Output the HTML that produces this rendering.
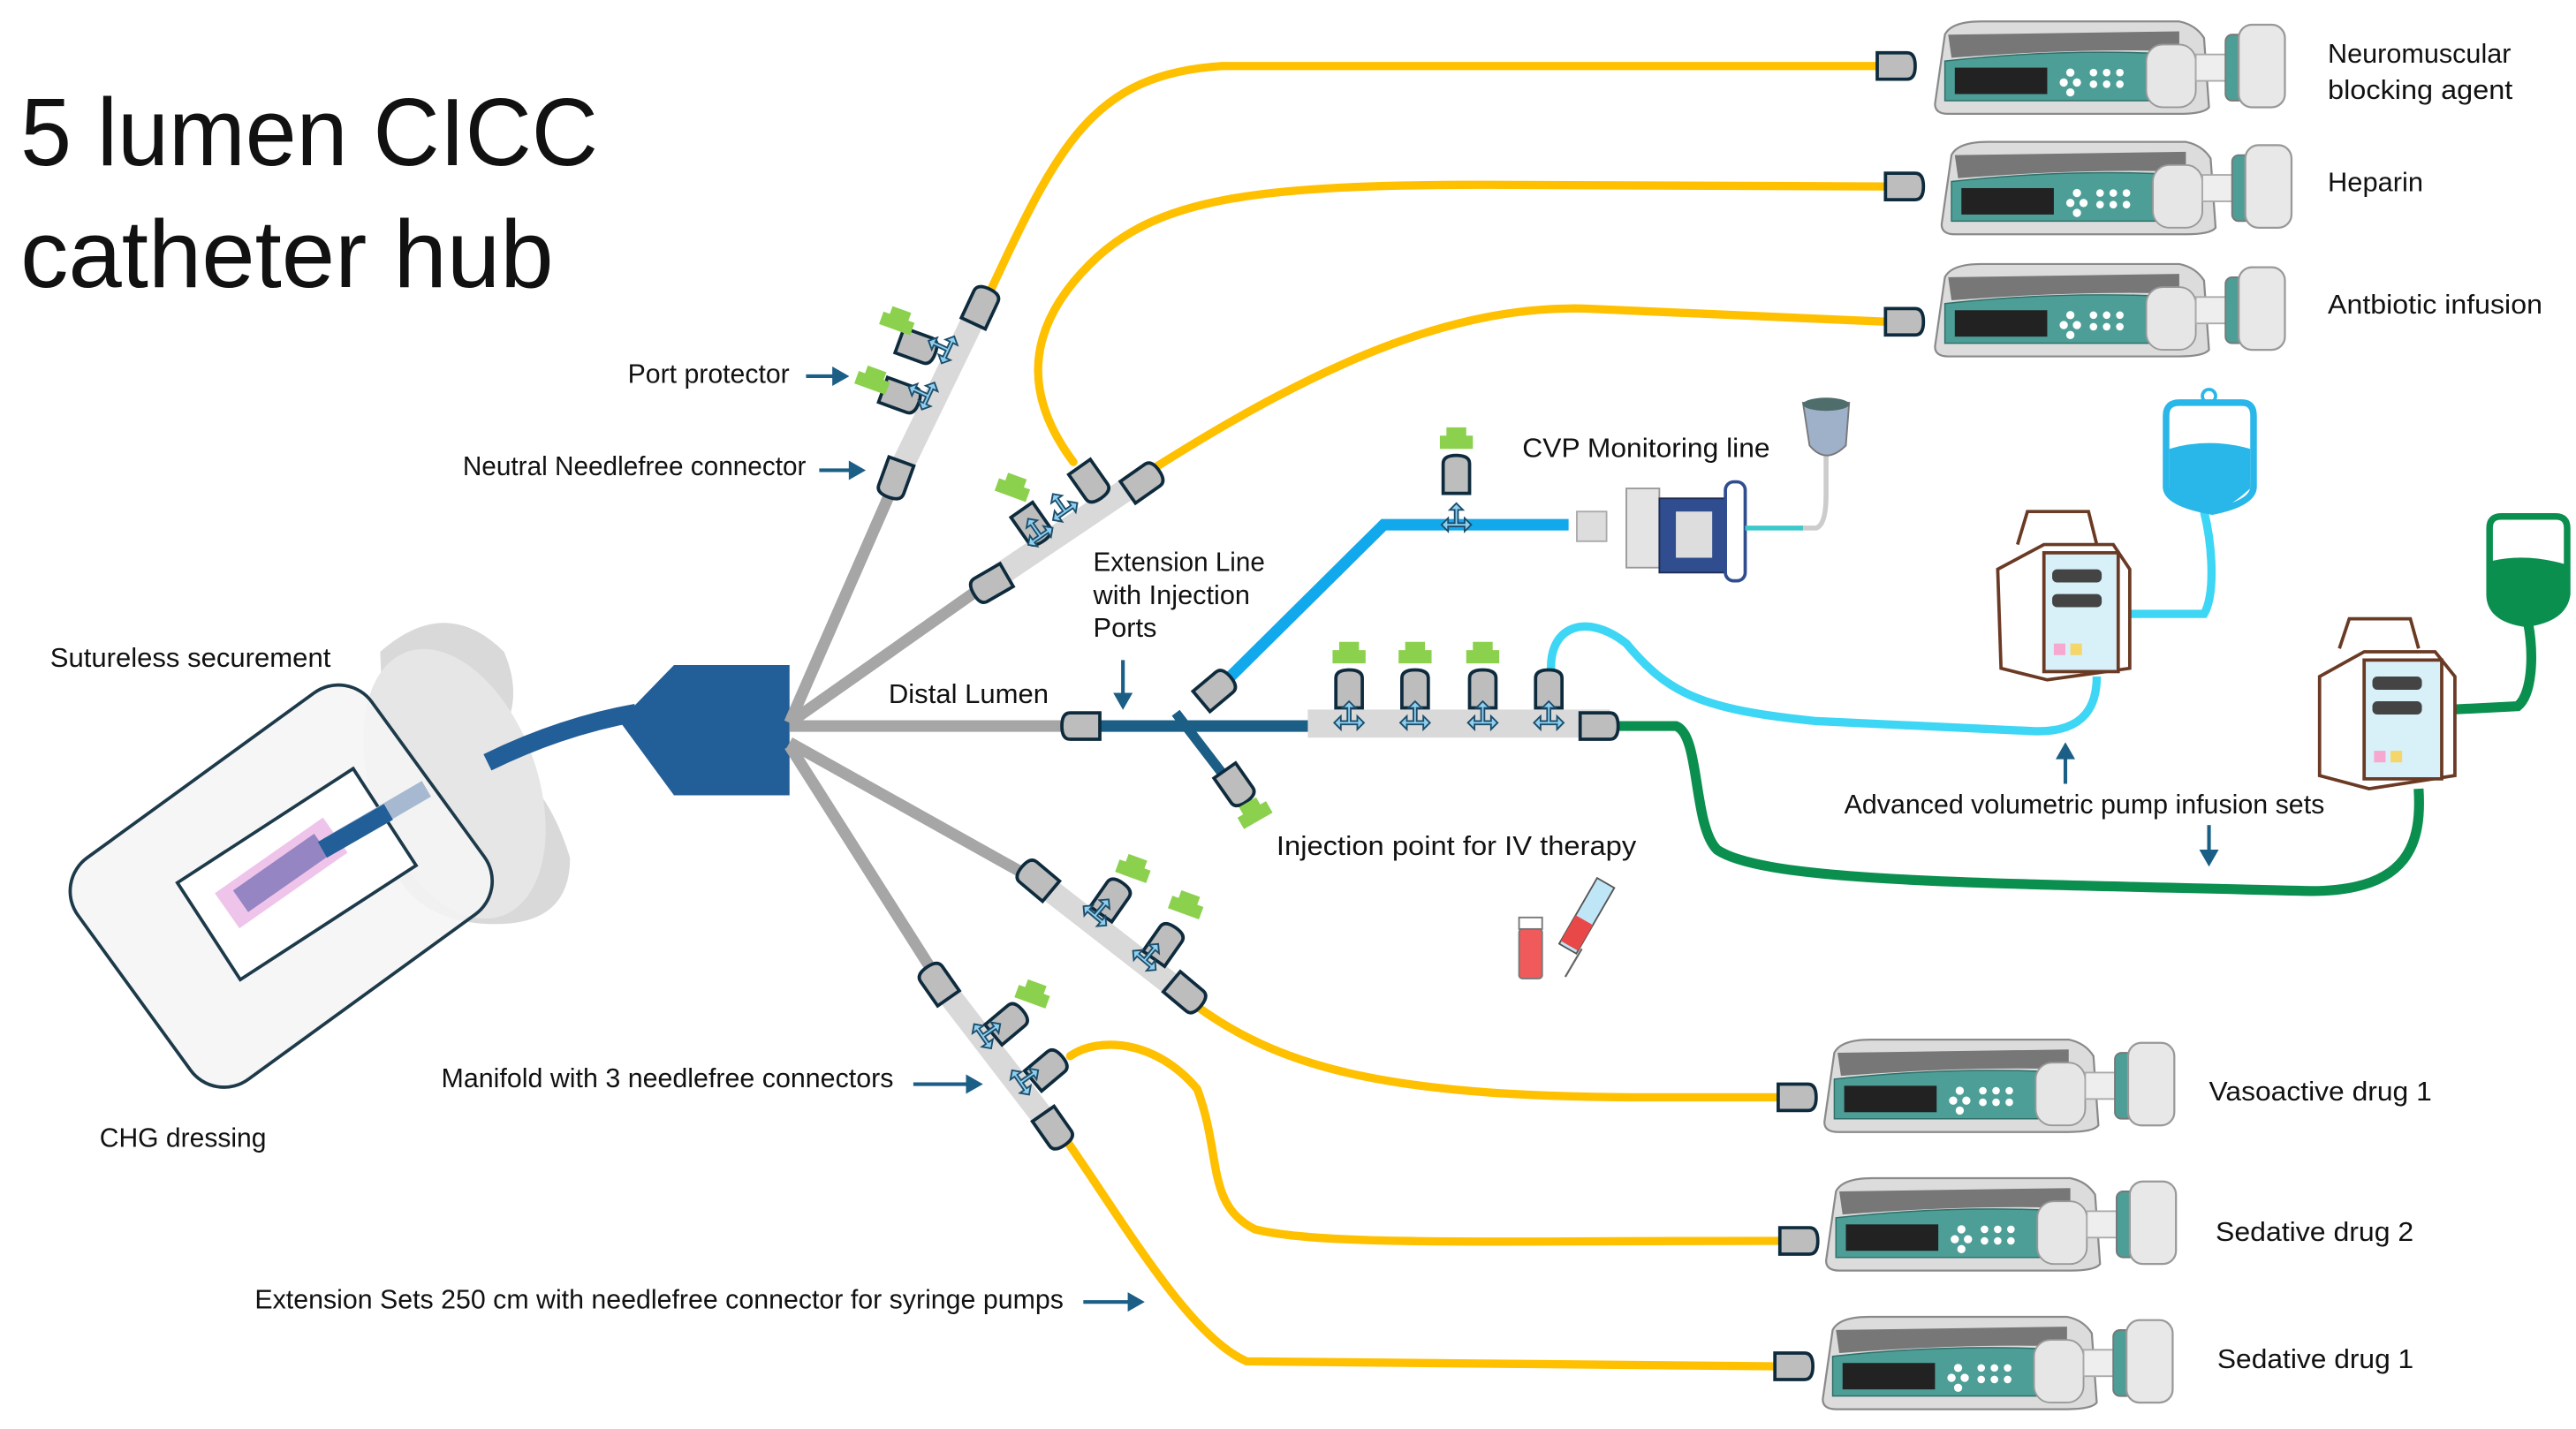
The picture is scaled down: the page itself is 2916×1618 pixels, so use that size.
<!DOCTYPE html>
<html><head><meta charset="utf-8"><style>
html,body{margin:0;padding:0;background:#fff;}
svg{display:block;}
text{font-family:"Liberation Sans Narrow","Liberation Sans",sans-serif;fill:#111;}
.l{font-size:16.5px;}
</style></head><body>
<svg width="2916" height="1618" viewBox="0 0 1560 866" xmlns="http://www.w3.org/2000/svg">
<defs>
<g id="pump">
 <path d="M8,8 Q12,0 30,0 L150,0 Q160,2 165,10 L168,52 Q165,56 150,56 L10,56 Q2,56 2,50 Z" fill="#dcdcdc" stroke="#8a8a8a" stroke-width="1.2"/>
 <path d="M10,8 L150,6 L150,18 Q90,16 12,22 Z" fill="#777"/>
 <path d="M8,24 Q80,16 150,20 L150,48 L8,48 Z" fill="#4d9e97" stroke="#2f6f6a" stroke-width="0.8"/>
 <rect x="14" y="28" width="56" height="16" fill="#222"/>
 <g fill="#fff"><circle cx="84" cy="31" r="2.5"/><circle cx="80" cy="37" r="2.5"/><circle cx="88" cy="37" r="2.5"/><circle cx="84" cy="43" r="2.5"/>
 <circle cx="98" cy="31" r="2.3"/><circle cx="106" cy="31" r="2.3"/><circle cx="114" cy="31" r="2.3"/><circle cx="98" cy="38" r="2.3"/><circle cx="106" cy="38" r="2.3"/><circle cx="114" cy="38" r="2.3"/></g>
 <rect x="130" y="14" width="30" height="38" rx="10" fill="#e6e6e6" stroke="#999"/>
 <rect x="160" y="20" width="25" height="16" fill="#eee" stroke="#aaa"/>
 <rect x="178" y="8" width="12" height="40" rx="4" fill="#4d9e97" stroke="#777"/>
 <rect x="186" y="2" width="28" height="50" rx="8" fill="#e8e8e8" stroke="#999" stroke-width="1.2"/>
</g>
<g id="conn"><path d="M-11,-8 L7,-8 Q12,-8 12,0 Q12,8 7,8 L-11,8 Z" fill="#bdbdbd" stroke="#0e2b3d" stroke-width="2"/></g>
<g id="cap"><path d="M-6,-9 L6,-9 L6,-4 L10,-4 L10,4 L-10,4 L-10,-4 L-6,-4 Z" fill="#8bd14d"/></g>
<g id="tee"><path d="M-9,0 L-5,-4 L-5,-1 L-1,-1 L-1,-9 L-4,-9 L0,-13 L4,-9 L1,-9 L1,-1 L5,-1 L5,-4 L9,0 L5,4 L5,1 L-5,1 L-5,4 Z" fill="#8fd0f0" stroke="#1d4d6b" stroke-width="1"/></g>
</defs>

<text x="12" y="100" textLength="350" lengthAdjust="spacingAndGlyphs" style="font-size:58px;font-family:'Liberation Sans',sans-serif">5 lumen CICC</text>
<text x="12" y="174" textLength="323" lengthAdjust="spacingAndGlyphs" style="font-size:58px;font-family:'Liberation Sans',sans-serif">catheter hub</text>

<!-- securement -->
<path d="M230,395 Q270,360 305,395 Q320,430 295,455 Q330,470 345,520 Q345,560 300,560 Q250,560 235,520 Z" fill="#d9d9d9"/>
<ellipse cx="275" cy="475" rx="50" ry="85" fill="#e6e6e6" transform="rotate(-20 275 475)"/>
<!-- dressing -->
<rect x="60" y="454" width="220" height="166" rx="25" fill="#f4f4f4" fill-opacity="0.85" stroke="#1d3a4a" stroke-width="2" transform="rotate(-36 170 537)"/>
<rect x="116" y="495" width="127" height="70" fill="#fff" stroke="#1d3a4a" stroke-width="2" transform="rotate(-33 179 530)"/>
<rect x="130" y="516" width="80" height="26" fill="#efc4ea" transform="rotate(-35 170 529)"/>
<rect x="140" y="521" width="60" height="16" fill="#9585c2" transform="rotate(-35 170 529)"/>
<path d="M198,513 L258,478" stroke="#a6b9d1" stroke-width="11"/>
<path d="M195,515 L235,492" stroke="#225e97" stroke-width="11"/>
<path d="M295,462 Q340,440 385,432" stroke="#225e97" stroke-width="11" fill="none"/>
<!-- hub -->
<path d="M375,437 L408,403 L478,403 L478,482 L408,482 Z" fill="#225e97"/>

<!-- gray lumens -->
<g stroke="#a6a6a6" stroke-width="7" fill="none">
<path d="M478,438 L545,285"/><path d="M478,438 L600,352"/><path d="M478,440 L650,440"/>
<path d="M478,450 L630,535"/><path d="M478,452 L570,597"/>
</g>
<g stroke="#d9d9d9" stroke-width="14" fill="none">
<path d="M545,285 L595,182"/><path d="M600,352 L695,288"/><path d="M630,535 L720,605"/><path d="M570,597 L640,688"/>
</g>

<!-- yellow lines -->
<g stroke="#ffc000" stroke-width="5" fill="none" stroke-linecap="round">
<path d="M597,182 C640,90 660,45 740,40 L1140,40"/>
<path d="M650,280 C620,240 620,200 660,160 C700,120 760,112 900,112 L1143,113"/>
<path d="M700,283 C800,220 880,185 960,187 L1143,195"/>
<path d="M725,610 C780,650 850,665 1000,665 L1078,665"/>
<path d="M648,640 C665,628 700,630 725,660 C740,700 730,730 760,745 C800,755 900,752 1078,752"/>
<path d="M645,690 C680,740 720,810 755,825 L1075,828"/>
</g>

<!-- distal -->
<path d="M665,440 L795,440" stroke="#1b5e86" stroke-width="7"/>
<path d="M712,432 L745,475" stroke="#1b5e86" stroke-width="6"/>
<path d="M730,425 L838,318 L950,318" stroke="#12a9ec" stroke-width="7" fill="none"/>
<rect x="792" y="430" width="183" height="17" fill="#d9d9d9"/>
<!-- cyan and green lines -->
<path d="M940,412 C935,380 960,370 985,390 C1010,420 1030,430 1100,437 L1230,443 C1265,445 1270,425 1270,410" stroke="#3dd6f5" stroke-width="5" fill="none"/>
<path d="M1288,372 L1335,372 C1342,360 1340,330 1335,310" stroke="#3dd6f5" stroke-width="5" fill="none"/>
<path d="M980,440 L1015,440 C1030,445 1025,500 1040,515 C1070,535 1200,535 1400,540 C1460,540 1467,510 1465,478" stroke="#0a8f4f" stroke-width="6" fill="none"/>
<path d="M1485,430 L1525,428 C1535,420 1535,390 1530,372" stroke="#0a8f4f" stroke-width="6" fill="none"/>

<!-- connectors -->
<use href="#conn" transform="translate(594,186) rotate(-65)"/>
<use href="#conn" transform="translate(542,290) rotate(110)"/>
<use href="#conn" transform="translate(555,210) rotate(20)"/>
<use href="#conn" transform="translate(545,240) rotate(20)"/>
<use href="#tee" transform="translate(574,212) rotate(-65)"/><use href="#tee" transform="translate(562,240) rotate(-65)"/>
<use href="#cap" transform="translate(543,196) rotate(20)"/><use href="#cap" transform="translate(528,232) rotate(20)"/>
<use href="#conn" transform="translate(600,354) rotate(150)"/>
<use href="#conn" transform="translate(692,292) rotate(-35)"/>
<use href="#conn" transform="translate(660,292) rotate(55)"/><use href="#conn" transform="translate(625,318) rotate(55)"/>
<use href="#tee" transform="translate(645,310) rotate(-35)"/><use href="#tee" transform="translate(630,325) rotate(-35)"/>
<use href="#cap" transform="translate(613,297) rotate(20)"/>
<use href="#conn" transform="translate(655,440) rotate(180)"/>
<use href="#conn" transform="translate(736,418) rotate(-40)"/>
<use href="#conn" transform="translate(748,476) rotate(55)"/>
<use href="#cap" transform="translate(760,494) rotate(-30)"/>
<use href="#conn" transform="translate(968,440)"/>
<use href="#conn" transform="translate(882,288) rotate(-90)"/>
<use href="#cap" transform="translate(882,268)"/>
<use href="#tee" transform="translate(882,318)"/>
<g>
<use href="#conn" transform="translate(817,418) rotate(-90)"/><use href="#conn" transform="translate(857,418) rotate(-90)"/>
<use href="#conn" transform="translate(898,418) rotate(-90)"/><use href="#conn" transform="translate(938,418) rotate(-90)"/>
<use href="#cap" transform="translate(817,398)"/><use href="#cap" transform="translate(857,398)"/><use href="#cap" transform="translate(898,398)"/>
<use href="#tee" transform="translate(817,438)"/><use href="#tee" transform="translate(857,438)"/><use href="#tee" transform="translate(898,438)"/><use href="#tee" transform="translate(938,438)"/>
</g>
<use href="#conn" transform="translate(628,533) rotate(-140)"/>
<use href="#conn" transform="translate(718,602) rotate(40)"/>
<use href="#conn" transform="translate(673,545) rotate(-55)"/><use href="#conn" transform="translate(705,572) rotate(-55)"/>
<use href="#tee" transform="translate(663,555) rotate(40)"/><use href="#tee" transform="translate(693,582) rotate(40)"/>
<use href="#cap" transform="translate(686,528) rotate(20)"/><use href="#cap" transform="translate(718,550) rotate(20)"/>
<use href="#conn" transform="translate(568,596) rotate(-125)"/>
<use href="#conn" transform="translate(638,684) rotate(55)"/>
<use href="#conn" transform="translate(610,620) rotate(-40)"/><use href="#conn" transform="translate(634,648) rotate(-40)"/>
<use href="#tee" transform="translate(595,628) rotate(55)"/><use href="#tee" transform="translate(618,656) rotate(55)"/>
<use href="#cap" transform="translate(625,604) rotate(20)"/>

<!-- pump connectors -->
<use href="#conn" transform="translate(1148,40)"/><use href="#conn" transform="translate(1153,113)"/><use href="#conn" transform="translate(1153,195)"/>
<use href="#conn" transform="translate(1088,665)"/><use href="#conn" transform="translate(1089,752)"/><use href="#conn" transform="translate(1086,828)"/>
<!-- syringe pumps -->
<use href="#pump" transform="translate(1170,13)"/>
<use href="#pump" transform="translate(1174,86)"/>
<use href="#pump" transform="translate(1170,160)"/>
<use href="#pump" transform="translate(1103,630)"/>
<use href="#pump" transform="translate(1104,714)"/>
<use href="#pump" transform="translate(1102,798)"/>

<!-- CVP transducer -->
<g>
<path d="M1090,320 L1100,320 Q1106,318 1106,300 L1106,262" stroke="#ccc" stroke-width="3" fill="none"/>
<path d="M1092,244 L1120,244 L1118,270 Q1106,282 1096,270 Z" fill="#9fb0c9" stroke="#777"/>
<ellipse cx="1106" cy="245" rx="14" ry="4" fill="#4f6e6b"/>
<rect x="955" y="310" width="18" height="18" fill="#ddd" stroke="#aaa"/>
<rect x="985" y="296" width="20" height="48" fill="#e4e4e4" stroke="#999"/>
<rect x="1005" y="302" width="40" height="45" fill="#2f4d8f" stroke="#1e2c55"/>
<rect x="1015" y="310" width="22" height="28" fill="#ddd"/>
<rect x="1045" y="292" width="12" height="60" rx="5" fill="none" stroke="#2f4d8f" stroke-width="2"/>
<path d="M1057,320 L1092,320" stroke="#3dc9c9" stroke-width="3"/>
</g>
<!-- bags -->
<path d="M1312,252 Q1312,244 1320,244 L1358,244 Q1365,244 1365,252 L1365,295 Q1365,305 1340,310 Q1312,305 1312,295 Z" fill="#fff" stroke="#29b6e8" stroke-width="4"/>
<path d="M1314,272 Q1338,265 1363,272 L1363,296 Q1350,308 1340,310 Q1314,305 1314,295 Z" fill="#29b6e8"/>
<circle cx="1338" cy="240" r="4" fill="none" stroke="#29b6e8" stroke-width="2"/>
<path d="M1508,320 Q1508,313 1515,313 L1548,313 Q1555,313 1555,320 L1555,360 Q1553,375 1530,378 Q1508,375 1508,360 Z" fill="#fff" stroke="#0a8f4f" stroke-width="4"/>
<path d="M1509,340 Q1530,335 1554,342 L1554,360 Q1550,375 1530,378 Q1509,375 1509,360 Z" fill="#0a8f4f"/>
<!-- volumetric pumps -->
<g stroke="#6b3a24" stroke-width="2" fill="#fff">
<path d="M1222,330 L1228,310 L1265,310 L1270,330" fill="none"/>
<path d="M1210,345 L1238,330 L1280,330 L1290,345 L1290,405 L1240,412 L1212,405 Z"/>
<rect x="1238" y="335" width="45" height="72" fill="#d8f0f8"/>
<path d="M1417,393 L1423,375 L1460,375 L1465,393" fill="none"/>
<path d="M1405,410 L1432,395 L1475,395 L1487,410 L1487,470 L1435,478 L1405,470 Z"/>
<rect x="1432" y="400" width="47" height="72" fill="#d8f0f8"/>
</g>
<g fill="#444"><rect x="1243" y="345" width="30" height="8" rx="3"/><rect x="1243" y="360" width="30" height="8" rx="3"/>
<rect x="1437" y="410" width="30" height="8" rx="3"/><rect x="1437" y="425" width="30" height="8" rx="3"/></g>
<rect x="1244" y="390" width="7" height="7" fill="#f7a8d0"/><rect x="1254" y="390" width="7" height="7" fill="#f5d66a"/>
<rect x="1438" y="455" width="7" height="7" fill="#f7a8d0"/><rect x="1448" y="455" width="7" height="7" fill="#f5d66a"/>

<!-- vial and syringe -->
<rect x="920" y="563" width="14" height="30" rx="2" fill="#f05a5a" stroke="#777"/>
<rect x="920" y="556" width="14" height="7" fill="#fff" stroke="#777"/>
<path d="M948,592 L958,575" stroke="#666" stroke-width="1.2"/>
<rect x="955" y="532" width="12" height="46" fill="#bfe6f7" stroke="#555" transform="rotate(30 961 555)"/>
<rect x="955" y="558" width="12" height="18" fill="#e84848" transform="rotate(30 961 555)"/>

<!-- labels -->
<g class="l">
<text x="380" y="232" class="l" textLength="98" lengthAdjust="spacingAndGlyphs">Port  protector</text>
<text x="280" y="288" class="l" textLength="208" lengthAdjust="spacingAndGlyphs">Neutral  Needlefree connector</text>
<text x="30" y="404" class="l" textLength="170" lengthAdjust="spacingAndGlyphs">Sutureless  securement</text>
<text x="538" y="426" class="l" textLength="97" lengthAdjust="spacingAndGlyphs">Distal Lumen</text>
<text x="662" y="346" class="l" textLength="104" lengthAdjust="spacingAndGlyphs">Extension Line</text>
<text x="662" y="366" class="l" textLength="95" lengthAdjust="spacingAndGlyphs">with Injection</text>
<text x="662" y="386" class="l">Ports</text>
<text x="922" y="277" class="l" textLength="150" lengthAdjust="spacingAndGlyphs">CVP Monitoring line</text>
<text x="773" y="518" class="l" textLength="218" lengthAdjust="spacingAndGlyphs">Injection point for IV therapy</text>
<text x="1117" y="493" class="l" textLength="291" lengthAdjust="spacingAndGlyphs">Advanced  volumetric pump  infusion sets</text>
<text x="267" y="659" class="l" textLength="274" lengthAdjust="spacingAndGlyphs">Manifold  with  3  needlefree connectors</text>
<text x="60" y="695" class="l" textLength="101" lengthAdjust="spacingAndGlyphs">CHG dressing</text>
<text x="154" y="793" class="l" textLength="490" lengthAdjust="spacingAndGlyphs">Extension Sets 250 cm with  needlefree connector for syringe pumps</text>
<text x="1410" y="38" class="l" textLength="111" lengthAdjust="spacingAndGlyphs">Neuromuscular</text>
<text x="1410" y="60" class="l" textLength="112" lengthAdjust="spacingAndGlyphs">blocking agent</text>
<text x="1410" y="116" class="l">Heparin</text>
<text x="1410" y="190" class="l" textLength="130" lengthAdjust="spacingAndGlyphs">Antbiotic infusion</text>
<text x="1338" y="667" class="l" textLength="135" lengthAdjust="spacingAndGlyphs">Vasoactive drug  1</text>
<text x="1342" y="752" class="l" textLength="120" lengthAdjust="spacingAndGlyphs">Sedative drug  2</text>
<text x="1343" y="829" class="l" textLength="119" lengthAdjust="spacingAndGlyphs">Sedative drug  1</text>
</g>
<!-- arrows -->
<g stroke="#1b5e86" stroke-width="2.2" fill="#1b5e86">
<path d="M488,228 L508,228"/><path d="M512,228 L505,224 L505,232 Z"/>
<path d="M496,285 L518,285"/><path d="M522,285 L515,281 L515,289 Z"/>
<path d="M680,400 L680,424"/><path d="M680,428 L676,421 L684,421 Z"/>
<path d="M1251,475 L1251,456"/><path d="M1251,452 L1247,459 L1255,459 Z"/>
<path d="M1338,500 L1338,519"/><path d="M1338,523 L1334,516 L1342,516 Z"/>
<path d="M553,657 L588,657"/><path d="M593,657 L586,653 L586,661 Z"/>
<path d="M656,789 L686,789"/><path d="M691,789 L684,785 L684,793 Z"/>
</g>
</svg>
</body></html>
